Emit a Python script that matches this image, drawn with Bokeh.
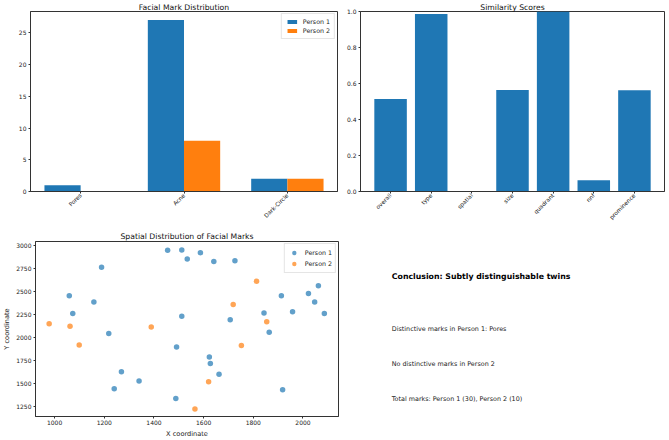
import numpy as np
from bokeh.plotting import figure
from bokeh.layouts import column, row
from bokeh.models import (FixedTicker, PrintfTickFormatter, Legend, LegendItem,
                          Range1d)
from bokeh.core.properties import value
from bokeh.embed import file_html
from bokeh.resources import INLINE

# ---------------- data ----------------
mark_types = ["Pores", "Acne", "Dark-Circle"]
person1_counts = [1, 27, 2]
person2_counts = [0, 8, 2]

metric_names = ["overall", "type", "spatial", "size", "quadrant", "nnf", "prominence"]
metric_scores = [0.514, 0.986, 0.0, 0.564, 1.0, 0.062, 0.562]

p1_x = [1455, 1512, 1587, 1534, 1641, 1726, 1189, 1059, 1158, 1073,
        1512, 1218, 1491, 1623, 1627, 1662, 1269, 1340, 1240, 1488,
        1707, 1843, 1864, 1913, 1958, 2022, 2062, 2047, 2086, 1918]
p1_y = [2944, 2947, 2919, 2849, 2824, 2831, 2761, 2451, 2384, 2257,
        2229, 2042, 1894, 1785, 1715, 1599, 1627, 1525, 1440, 1335,
        2190, 2264, 2056, 2451, 2278, 2475, 2560, 2384, 2257, 1430]
p2_x = [978, 1062, 1099, 1389, 1719, 1813, 1854, 1752, 1620, 1565]
p2_y = [2148, 2120, 1916, 2113, 2356, 2609, 2169, 1912, 1518, 1222]

series_names = ["Person 1", "Person 2"]
x_ticks_scatter = [1000, 1200, 1400, 1600, 1800, 2000]
y_ticks_scatter = [1250, 1500, 1750, 2000, 2250, 2500, 2750, 3000]
y_ticks_counts = [0, 5, 10, 15, 20, 25]
y_ticks_scores = [0.0, 0.2, 0.4, 0.6, 0.8, 1.0]

conclusion_title = "Conclusion: Subtly distinguishable twins"
conclusion_lines = ["Distinctive marks in Person 1: Pores",
                    "No distinctive marks in Person 2",
                    "Total marks: Person 1 (30), Person 2 (10)"]

# ---------------- styling ----------------
FONT = "DejaVu Sans"
BLUE = "#1f77b4"
ORANGE = "#ff7f0e"
AX = "#333333"
TICK_FS = "6px"
TITLE_FS = "7.7px"


def style(p):
    p.grid.visible = False
    p.outline_line_color = AX
    p.outline_line_width = 1
    p.background_fill_color = "white"
    p.border_fill_color = "white"
    for ax in p.axis:
        ax.axis_line_color = AX
        ax.major_tick_line_color = AX
        ax.major_tick_out = 2
        ax.major_tick_in = 0
        ax.minor_tick_out = 0
        ax.minor_tick_in = 0
        ax.major_label_text_font_size = TICK_FS
        ax.major_label_text_font = FONT
        ax.major_label_text_color = "#222222"
        ax.major_label_standoff = 2
        ax.axis_label_text_font = FONT
        ax.axis_label_text_font_size = "6.6px"
        ax.axis_label_text_font_style = "normal"
        ax.axis_label_text_color = "#222222"
        ax.axis_label_standoff = 2
    p.title.text_font = FONT
    p.title.text_font_size = TITLE_FS
    p.title.text_font_style = "normal"
    p.title.text_color = "#111111"
    p.title.align = "center"
    p.title.standoff = 0


def style_legend(lg, gh=5, sp=2):
    lg.location = "top_right"
    lg.label_text_font = FONT
    lg.label_text_font_size = "6.3px"
    lg.label_text_color = "#222222"
    lg.glyph_width = 12
    lg.glyph_height = gh
    lg.label_height = 7
    lg.label_width = 20
    lg.label_standoff = 5
    lg.spacing = sp
    lg.padding = 4
    lg.margin = 2
    lg.border_line_color = "#cccccc"
    lg.border_line_width = 1
    lg.background_fill_alpha = 0.8


def category_axis(p, names, positions):
    p.xaxis.ticker = FixedTicker(ticks=[int(v) for v in positions])
    p.xaxis.major_label_overrides = {int(v): n for v, n in zip(positions, names)}
    p.xaxis.major_label_orientation = np.pi / 4
    p.xaxis.major_label_standoff = 1
    p.xaxis.major_label_text_font_size = "5.7px"


# ---------------- panel 1: grouped bars ----------------
xc = np.arange(len(mark_types))
bw = 0.35
p1 = figure(width=340, height=225, title="Facial Mark Distribution",
            x_range=Range1d(-0.485, 2.485), y_range=Range1d(0, 28.35),
            output_backend="svg", toolbar_location=None,
            min_border_left=30, min_border_right=3, min_border_top=11,
            min_border_bottom=34)
rb1 = p1.vbar(x=xc - bw / 2, top=person1_counts, width=bw, fill_color=BLUE, line_color=None)
rb2 = p1.vbar(x=xc + bw / 2, top=person2_counts, width=bw, fill_color=ORANGE, line_color=None)
style(p1)
category_axis(p1, mark_types, xc)
p1.yaxis.ticker = FixedTicker(ticks=y_ticks_counts)
lg1 = Legend(items=[LegendItem(label=series_names[0], renderers=[rb1]),
                    LegendItem(label=series_names[1], renderers=[rb2])])
style_legend(lg1)
p1.add_layout(lg1)

# ---------------- panel 2: similarity scores ----------------
xm = np.arange(len(metric_names))
p2 = figure(width=329, height=225, title="Similarity Scores",
            x_range=Range1d(-0.74, 6.74), y_range=Range1d(0, 1.0),
            output_backend="svg", toolbar_location=None,
            min_border_left=20, min_border_right=5, min_border_top=11,
            min_border_bottom=34)
p2.vbar(x=xm, top=metric_scores, width=0.8, fill_color=BLUE, line_color=None)
style(p2)
category_axis(p2, metric_names, xm)
p2.yaxis.ticker = FixedTicker(ticks=y_ticks_scores)
p2.yaxis.formatter = PrintfTickFormatter(format="%.1f")

# ---------------- panel 3: scatter ----------------
p3 = figure(width=340, height=215, title="Spatial Distribution of Facial Marks",
            x_range=Range1d(923, 2143), y_range=Range1d(1140, 3040),
            output_backend="svg", toolbar_location=None,
            min_border_left=31, min_border_right=2, min_border_top=16,
            min_border_bottom=20)
rs1 = p3.scatter(p1_x, p1_y, size=5.5, fill_color=BLUE, fill_alpha=0.7, line_color=None)
rs2 = p3.scatter(p2_x, p2_y, size=5.5, fill_color=ORANGE, fill_alpha=0.7, line_color=None)
style(p3)
p3.title.standoff = 2
p3.xaxis.ticker = FixedTicker(ticks=x_ticks_scatter)
p3.yaxis.ticker = FixedTicker(ticks=y_ticks_scatter)
p3.xaxis.major_label_standoff = 1
p3.xaxis.axis_label = "X coordinate"
p3.yaxis.axis_label = "Y coordinate"
lg3 = Legend(items=[LegendItem(label=series_names[0], renderers=[rs1]),
                    LegendItem(label=series_names[1], renderers=[rs2])])
style_legend(lg3, gh=11, sp=0)
lg3.padding = 3
p3.add_layout(lg3)

# ---------------- panel 4: conclusion text ----------------
p4 = figure(width=329, height=215, x_range=Range1d(0, 1), y_range=Range1d(0, 1),
            output_backend="svg", toolbar_location=None,
            min_border_left=21, min_border_right=5, min_border_top=16,
            min_border_bottom=20)
p4.axis.visible = False
p4.grid.visible = False
p4.outline_line_color = None
p4.background_fill_color = "white"
p4.border_fill_color = "white"
p4.text(x=[0.1], y=[0.8], text=[conclusion_title], text_font=value(FONT),
        text_font_size="7.8px", text_font_style="bold", text_color="#000000",
        text_baseline="alphabetic", text_align="left")
p4.text(x=[0.1, 0.1, 0.1], y=[0.5, 0.3, 0.1], text=conclusion_lines,
        text_font=value(FONT), text_font_size="6.4px", text_color="#222222",
        text_baseline="alphabetic", text_align="left")

layout = column(row(p1, p2, spacing=0), row(p3, p4, spacing=0), spacing=0)

open("out.html", "w").write(file_html(layout, INLINE))
